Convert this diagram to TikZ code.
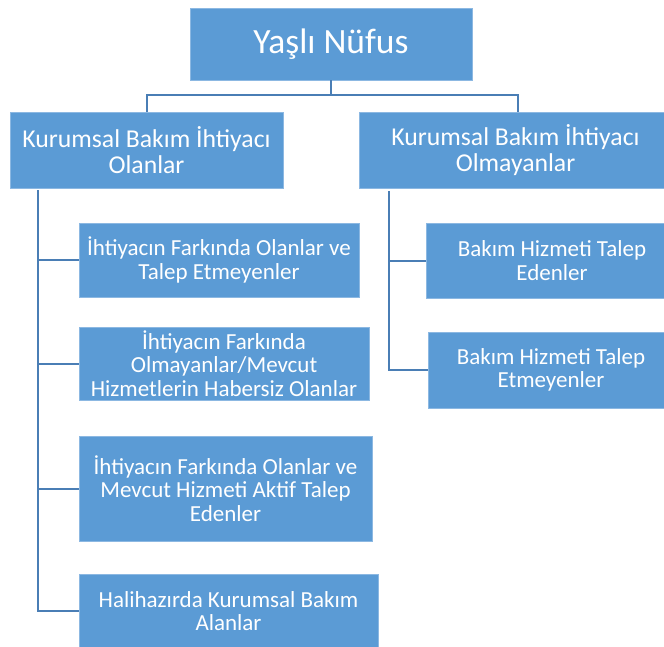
\documentclass[tikz,border=0pt]{standalone}
\usepackage{fontspec}
\setmainfont{Carlito}
\definecolor{boxblue}{HTML}{5B9BD5}
\definecolor{boxedge}{HTML}{8CB8E2}
\definecolor{linkblue}{HTML}{4A7EB5}
\begin{document}
\begin{tikzpicture}[x=1pt,y=-1pt,
  box/.style={rectangle,fill=boxblue,draw=boxedge,line width=0.6pt,inner sep=0pt,text=white,align=center},
  lvla/.style={box,font=\fontsize{35.5}{40}\selectfont},
  lvlb/.style={box,font=\fontsize{25.7}{26.7}\selectfont},
  lvlc/.style={box,font=\fontsize{23}{23.4}\selectfont},
  link/.style={draw=linkblue,line width=2pt}]
\clip (0,0) rectangle (664,646);
\fill[white] (0,0) rectangle (664,646);
\node[lvla,minimum width=282,minimum height=72] (top) at (331,44) {Yaşlı Nüfus};
\node[lvlb,minimum width=273,minimum height=76] (L) at (146.5,150) {Kurumsal Bakım İhtiyacı\\Olanlar};
\node[lvlb,minimum width=313,minimum height=76] (R) at (515.5,150) {Kurumsal Bakım İhtiyacı\\Olmayanlar};
\node[lvlc,minimum width=280,minimum height=74] (L1) at (219,260) {İhtiyacın Farkında Olanlar ve\\Talep Etmeyenler};
\node[lvlc,minimum width=290,minimum height=73] (L2) at (224,363.5) {İhtiyacın Farkında\\Olmayanlar/Mevcut\\Hizmetlerin Habersiz Olanlar};
\node[lvlc,minimum width=293,minimum height=105] (L3) at (225.5,488.5) {İhtiyacın Farkında Olanlar ve\\Mevcut Hizmeti Aktif Talep\\Edenler};
\node[lvlc,minimum width=299,minimum height=74] (L4) at (228.5,611) {Halihazırda Kurumsal Bakım\\Alanlar};
\node[lvlc,minimum width=252,minimum height=75] (R1) at (552,260.5) {Bakım Hizmeti Talep\\Edenler};
\node[lvlc,minimum width=246,minimum height=76] (R2) at (551,370) {Bakım Hizmeti Talep\\Etmeyenler};
\coordinate (hub) at (331,95);
\coordinate (hl) at (147,95);
\coordinate (hr) at (518,95);
\coordinate (lt) at (38,190);
\coordinate (rt) at (389,191);
\draw[link] (top.south) -- (hub);
\draw[link] (hl |- L.north) -- (hl) -- (hr) -- (hr |- R.north);
\draw[link] (lt) -- (lt |- L4.west) -- (L4.west);
\draw[link] (lt |- L1.west) -- (L1.west);
\draw[link] (lt |- L2.west) -- (L2.west);
\draw[link] (lt |- L3.west) -- (L3.west);
\draw[link] (rt) -- (rt |- R2.west) -- (R2.west);
\draw[link] (rt |- R1.west) -- (R1.west);
\end{tikzpicture}
\end{document}
